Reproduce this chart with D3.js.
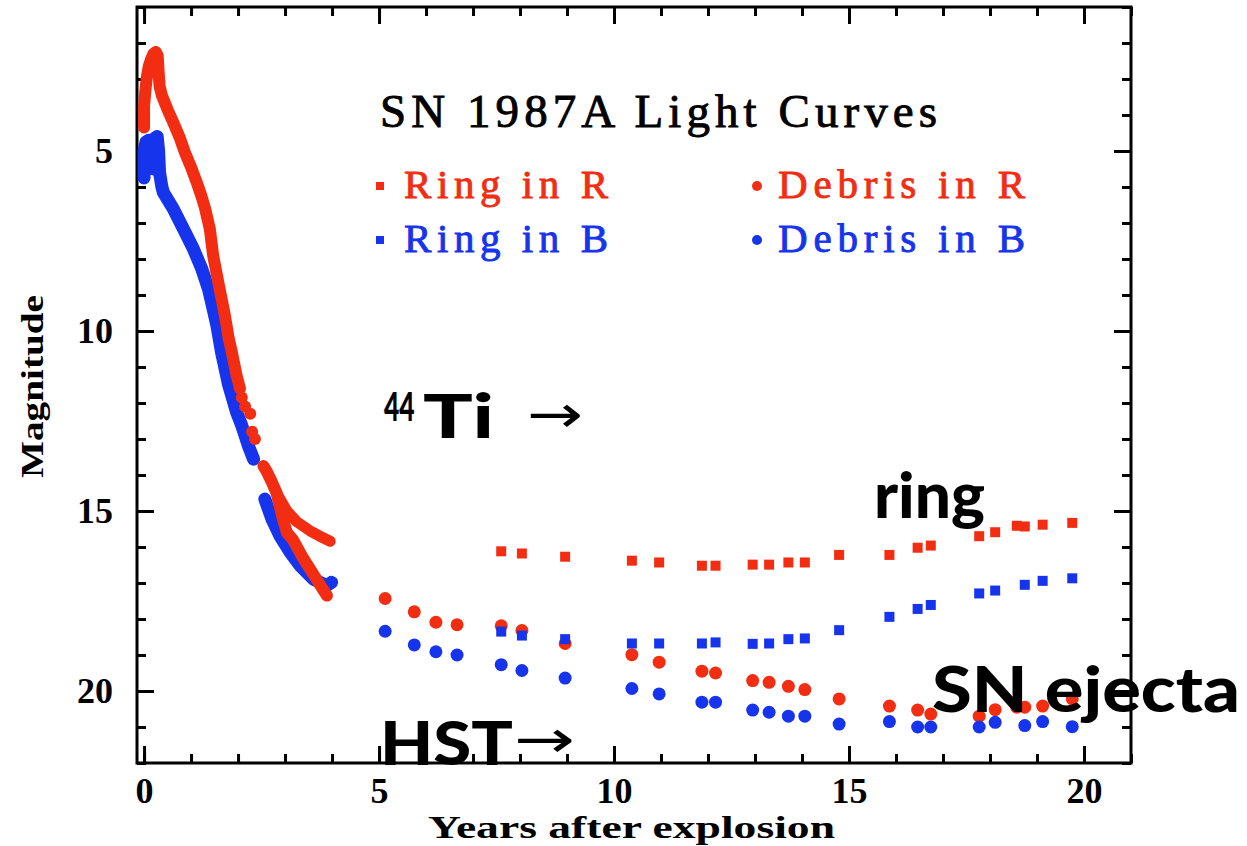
<!DOCTYPE html>
<html>
<head>
<meta charset="utf-8">
<script src="https://cdn.jsdelivr.net/npm/d3@7"></script>
<style>
	body { margin: 0; background: #fff; }
	svg { display: block; }
</style>
</head>
<body>
<svg id="chart" width="1247" height="846"></svg>
<script>
// Early light curve (dense ground based photometry), [years, magnitude]
var debrisREarly = [
	[[0.00,4.35],[0.00,3.75],[0.03,3.3],[0.06,2.95],[0.10,2.65],[0.15,2.45],[0.20,2.3],[0.25,2.25],[0.29,2.35],[0.31,2.8],[0.33,3.2],[0.38,3.46],[0.50,3.85],[0.62,4.2],[0.75,4.6],[0.87,5.04],[1.00,5.45],[1.12,5.87],[1.22,6.25],[1.30,6.6],[1.40,7.17],[1.47,7.9],[1.58,8.65],[1.72,9.57],[1.80,10.2],[1.87,10.6],[1.97,11.24],[2.04,11.6]],
	[[2.54,13.75],[2.61,13.9],[2.72,14.2],[2.82,14.5],[2.95,15.2],[3.04,15.6],[3.17,15.8],[3.38,16.3],[3.67,16.9],[3.89,17.35]]
];
var debrisREarlyDots = [[2.08,11.85],[2.15,12.1],[2.26,12.3],[2.30,12.8],[2.36,13.0]];
var ringREarly = [[2.82,14.5],[2.95,14.8],[3.04,15.0],[3.25,15.3],[3.53,15.55],[3.74,15.7],[3.96,15.84]];
var debrisBEarly = [
	[[0.00,5.75],[0.00,5.0],[0.04,4.75],[0.10,4.7],[0.12,5.45],[0.20,5.5],[0.22,4.65],[0.28,4.6],[0.31,5.0],[0.33,5.6],[0.38,6.0],[0.41,6.15],[0.62,6.6],[0.84,7.17],[1.05,7.72],[1.23,8.28],[1.37,8.83],[1.47,9.39],[1.55,9.85],[1.65,10.6],[1.80,11.5],[1.97,12.26],[2.08,12.63],[2.22,13.19],[2.33,13.56]],
	[[2.57,14.67],[2.72,15.22],[2.89,15.69],[3.11,16.15],[3.32,16.52],[3.60,16.89],[3.89,17.07],[3.99,16.98]]
];

// HST epochs and magnitudes (null = no point)
var epochs  = [5.13, 5.75, 6.21, 6.66, 7.60, 8.04, 8.96, 10.38, 10.96, 11.87, 12.16, 12.95, 13.30, 13.71, 14.06, 14.79, 15.86, 16.46, 16.74, 17.77, 18.11, 18.57, 18.74, 19.12, 19.75];
var debrisR = [17.43, 17.80, 18.09, 18.16, 18.19, 18.32, 18.68, 18.99, 19.20, 19.45, 19.50, 19.71, 19.76, 19.87, 19.96, 20.22, 20.42, 20.53, 20.64, 20.70, 20.52, 20.45, 20.45, 20.42, 20.22];
var debrisB = [18.34, 18.72, 18.91, 19.00, 19.27, 19.43, 19.64, 19.93, 20.08, 20.31, 20.31, 20.53, 20.59, 20.70, 20.70, 20.92, 20.85, 21.00, 21.00, 21.00, 20.87, null, 20.96, 20.85, 20.99];
var ringR   = [null, null, null, null, 16.12, 16.18, 16.27, 16.38, 16.43, 16.52, 16.52, 16.49, 16.49, 16.43, 16.43, 16.22, 16.22, 16.02, 15.96, 15.70, 15.59, 15.41, 15.43, 15.38, 15.33];
var ringB   = [null, null, null, null, 18.35, 18.46, 18.56, 18.68, 18.68, 18.68, 18.65, 18.69, 18.68, 18.56, 18.54, 18.31, 17.94, 17.72, 17.61, 17.29, 17.21, null, 17.05, 16.94, 16.87];

// Ticks
var xMajor = [0, 5, 10, 15, 20],
	xMinor = d3.range(0, 22, 1),
	yMajor = [5, 10, 15, 20],
	yMinor = d3.range(1, 23, 1);

var red = '#f22d12',
	blue = '#1634ec';

var svg = d3.select('#chart');

var x = d3.scaleLinear().domain([-0.15, 21]).range([137, 1131]),
	y = d3.scaleLinear().domain([1, 22]).range([7, 763]);

function pts(vals) {
	return epochs.map(function(t, i) { return [t, vals[i]]; })
		.filter(function(d) { return d[1] != null; });
}

// Axes, ticks inward on all four sides
function axis(gen, tr, ticks, size, labels) {
	var g = svg.append('g').attr('transform', tr)
		.call(gen.tickValues(ticks).tickSize(size).tickSizeOuter(0)
			.tickFormat(labels ? d3.format('d') : ''));
	g.select('.domain').remove();
	g.selectAll('line').attr('stroke', '#000').attr('stroke-width', 3);
	g.selectAll('text').attr('fill', '#000')
		.style('font-family', '"Liberation Serif", serif')
		.style('font-weight', 'bold')
		.style('font-size', '36px');
	return g;
}
axis(d3.axisBottom(x).tickPadding(14), 'translate(0,763)', xMajor, -17, true);
axis(d3.axisBottom(x), 'translate(0,763)', xMinor, -9, false);
axis(d3.axisTop(x), 'translate(0,7)', xMajor, -17, false);
axis(d3.axisTop(x), 'translate(0,7)', xMinor, -9, false);
axis(d3.axisLeft(y).tickPadding(24), 'translate(137,0)', yMajor, -17, true);
axis(d3.axisLeft(y), 'translate(137,0)', yMinor, -9, false);
axis(d3.axisRight(y), 'translate(1131,0)', yMajor, -17, false);
axis(d3.axisRight(y), 'translate(1131,0)', yMinor, -9, false);

svg.append('rect')
	.attr('x', 137).attr('y', 7).attr('width', 1131 - 137).attr('height', 763 - 7)
	.attr('fill', 'none').attr('stroke', '#000').attr('stroke-width', 3);

// Early bands
var line = d3.line().x(function(d) { return x(d[0]); }).y(function(d) { return y(d[1]); });
var early = svg.append('g').attr('fill', 'none')
	.attr('stroke-linecap', 'round').attr('stroke-linejoin', 'round');
early.selectAll('.eb').data(debrisBEarly).enter().append('path')
	.attr('d', line).attr('stroke', blue).attr('stroke-width', 13);
early.selectAll('.er').data(debrisREarly).enter().append('path')
	.attr('d', line).attr('stroke', red).attr('stroke-width', 12);
early.append('path').attr('d', line(ringREarly)).attr('stroke', red).attr('stroke-width', 11);
early.selectAll('circle').data(debrisREarlyDots).enter().append('circle')
	.attr('cx', function(d) { return x(d[0]); })
	.attr('cy', function(d) { return y(d[1]); })
	.attr('r', 6).attr('fill', red).attr('stroke', 'none');

// HST points
function circles(vals, color) {
	svg.append('g').selectAll('circle').data(pts(vals)).enter().append('circle')
		.attr('cx', function(d) { return x(d[0]); })
		.attr('cy', function(d) { return y(d[1]); })
		.attr('r', 6.5).attr('fill', color);
}
function squares(vals, color) {
	svg.append('g').selectAll('rect').data(pts(vals)).enter().append('rect')
		.attr('x', function(d) { return x(d[0]) - 5; })
		.attr('y', function(d) { return y(d[1]) - 5; })
		.attr('width', 10).attr('height', 10).attr('fill', color);
}
circles(debrisR, red);
circles(debrisB, blue);
squares(ringR, red);
squares(ringB, blue);

// Title and legend
var serif = '"Liberation Serif", serif';
svg.append('text').attr('x', 380).attr('y', 127)
	.attr('textLength', 557).attr('lengthAdjust', 'spacing')
	.style('font-family', serif).style('font-size', '47px')
	.attr('fill', '#000').attr('stroke', '#000').attr('stroke-width', 0.9)
	.text('SN 1987A Light Curves');

var legend = [
	{ label: 'Ring in R', color: red, shape: 'sq', lx: 380, tx: 404, ty: 198, w: 204 },
	{ label: 'Ring in B', color: blue, shape: 'sq', lx: 380, tx: 404, ty: 252, w: 204 },
	{ label: 'Debris in R', color: red, shape: 'ci', lx: 757, tx: 778, ty: 198, w: 247 },
	{ label: 'Debris in B', color: blue, shape: 'ci', lx: 757, tx: 778, ty: 252, w: 247 }
];
legend.forEach(function(l) {
	if (l.shape == 'sq') {
		svg.append('rect').attr('x', l.lx - 4).attr('y', l.ty - 16).attr('width', 8).attr('height', 8).attr('fill', l.color);
	} else {
		svg.append('circle').attr('cx', l.lx).attr('cy', l.ty - 12).attr('r', 5).attr('fill', l.color);
	}
	svg.append('text').attr('x', l.tx).attr('y', l.ty)
		.attr('textLength', l.w).attr('lengthAdjust', 'spacing')
		.style('font-family', serif).style('font-size', '41px')
		.attr('fill', l.color).attr('stroke', l.color).attr('stroke-width', 0.9)
		.text(l.label);
});

// Axis titles
svg.append('text').attr('transform', 'translate(43,478) rotate(-90)')
	.attr('textLength', 183).attr('lengthAdjust', 'spacingAndGlyphs')
	.style('font-family', serif).style('font-weight', 'bold').style('font-size', '31px')
	.text('Magnitude');
svg.append('text').attr('x', 428).attr('y', 838)
	.attr('textLength', 407).attr('lengthAdjust', 'spacingAndGlyphs')
	.style('font-family', serif).style('font-weight', 'bold').style('font-size', '31px')
	.text('Years after explosion');

// Hand-written annotations
var hand = 'Lato, "Open Sans", sans-serif',
	arrowFont = '"DejaVu Sans", sans-serif';
function note(txt, x0, y0, w, size, font, weight) {
	return svg.append('text').attr('x', x0).attr('y', y0)
		.attr('textLength', w).attr('lengthAdjust', 'spacingAndGlyphs')
		.style('font-family', font).style('font-weight', weight).style('font-size', size + 'px')
		.attr('fill', '#000')
		.text(txt);
}
// superscript mass number, squeezed to the hand-written width
svg.append('text').attr('transform', 'translate(384,421) scale(0.66,1)')
	.style('font-family', hand).style('font-weight', 900).style('font-size', '40px')
	.attr('fill', '#000').text('44');
note('Ti', 423, 438, 71, 60, hand, 900);
note('\u2192', 527, 432, 56, 52, arrowFont, 'normal');
note('ring', 874, 518, 111, 62, hand, 900);
note('SN ejecta', 932, 712, 308, 62, hand, 900);
note('HST', 380, 765, 133, 60, hand, 900);
note('\u2192', 514, 757, 61, 52, arrowFont, 'normal');
</script>
</body>
</html>
